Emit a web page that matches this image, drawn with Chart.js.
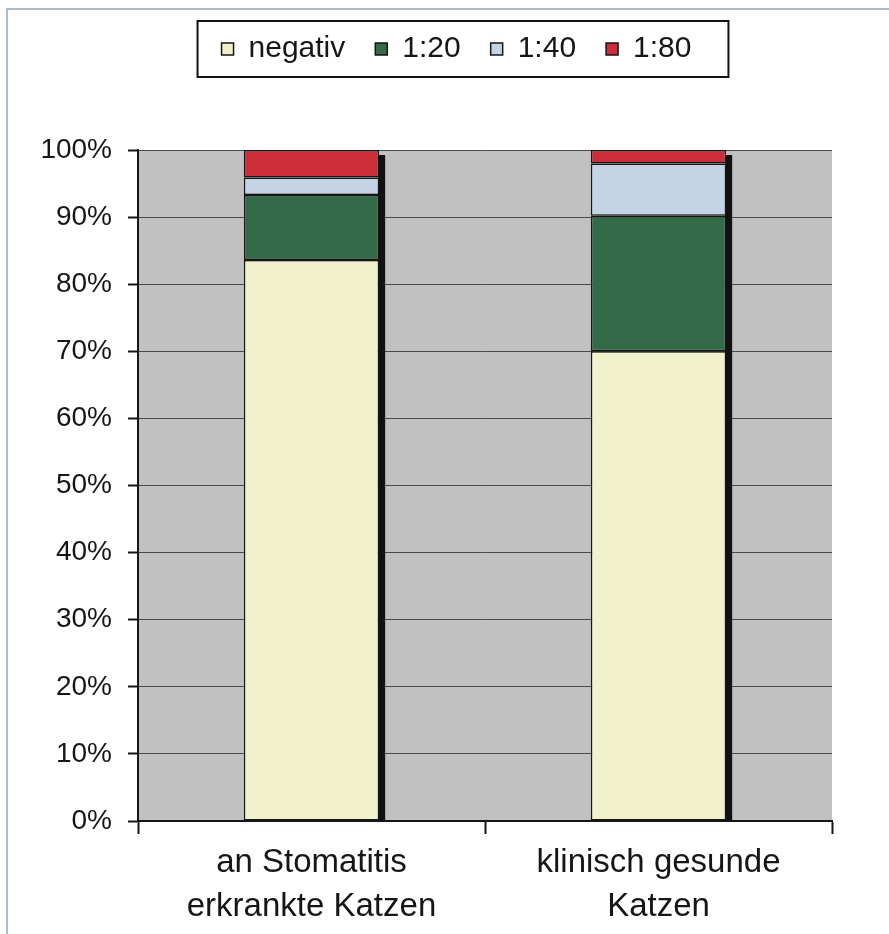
<!DOCTYPE html>
<html><head><meta charset="utf-8">
<script src="https://cdn.jsdelivr.net/npm/chart.js@4/dist/chart.umd.min.js"></script>
<style>
html,body{margin:0;padding:0;background:#fff;}
#wrap{position:relative;width:889px;height:934px;overflow:hidden;}
#frame{position:absolute;left:6px;top:8px;width:900px;height:950px;border-top:2px solid #a9bdcc;border-left:2px solid #a9bdcc;}
canvas{position:absolute;left:0;top:0;}
</style></head><body>
<div id="wrap"><div id="frame"></div><canvas id="c" width="889" height="934"></canvas></div>
<script>
// ---- data ----
const categories = [['an Stomatitis', 'erkrankte Katzen'], ['klinisch gesunde', 'Katzen']];
const seriesNames = ['negativ', '1:20', '1:40', '1:80'];
const negativ = [83.6, 70.0];
const titer20 = [9.7, 20.2];
const titer40 = [2.6, 7.8];
const titer80 = [4.1, 2.0];
const yMin = 0, yMax = 100, yStep = 10;

// ---- styles ----
const colors = ['#f1f2cc', '#336a48', '#c5d4e4', '#cb2e39'];
const FONT = "'Liberation Sans', Arial, sans-serif";
const DARK = '#161616';

const plotBg = {
  id: 'plotBg',
  beforeDraw(chart) {
    const {ctx, chartArea: a} = chart;
    ctx.save();
    ctx.fillStyle = '#c1c1c2';
    ctx.fillRect(a.left, a.top, a.right - a.left, a.bottom - a.top);
    ctx.restore();
  }
};
const barShadow = {
  id: 'barShadow',
  beforeDatasetsDraw(chart) {
    const ctx = chart.ctx;
    const n = chart.data.datasets.length;
    const topMeta = chart.getDatasetMeta(n - 1);
    const baseMeta = chart.getDatasetMeta(0);
    ctx.save();
    ctx.fillStyle = '#111';
    topMeta.data.forEach((bar, i) => {
      const p = bar.getProps(['x', 'y', 'width'], true);
      const base = baseMeta.data[i].getProps(['base'], true).base;
      const right = p.x + p.width / 2;
      ctx.fillRect(right - 1, p.y + 5, 7, base - p.y - 5);
    });
    ctx.restore();
  }
};
const legendGap = {
  id: 'legendGap',
  beforeLayout(chart) {
    const lg = chart.legend;
    if (lg && !lg._gapWrapped) {
      const fit = lg.fit.bind(lg);
      lg.fit = function () { fit(); this.height += 76; };
      lg._gapWrapped = true;
    }
  }
};
const legendBorder = {
  id: 'legendBorder',
  afterDraw(chart) {
    const hb = chart.legend && chart.legend.legendHitBoxes;
    if (!hb || !hb.length) return;
    const ctx = chart.ctx;
    const first = hb[0], last = hb[hb.length - 1];
    const cy = first.top + first.height / 2;
    ctx.save();
    ctx.strokeStyle = '#111';
    ctx.lineWidth = 2;
    ctx.strokeRect(first.left - 24, cy - 28, (last.left + last.width) - first.left + 24 + 37, 56);
    ctx.restore();
  }
};

const seriesData = [negativ, titer20, titer40, titer80];
const datasets = seriesNames.map((name, i) => ({
  label: name,
  data: seriesData[i],
  backgroundColor: colors[i],
  borderColor: DARK,
  borderWidth: 1.5,
  borderSkipped: false,
  categoryPercentage: 1.0,
  barPercentage: 0.39
}));

new Chart(document.getElementById('c'), {
  type: 'bar',
  data: { labels: categories, datasets },
  plugins: [plotBg, barShadow, legendGap, legendBorder],
  options: {
    responsive: false,
    devicePixelRatio: 1,
    animation: false,
    layout: { padding: { top: 4, left: 24, right: 0, bottom: 0 } },
    plugins: {
      tooltip: { enabled: false },
      legend: {
        display: true,
        position: 'top',
        labels: {
          boxWidth: 12, boxHeight: 12, padding: 30,
          color: DARK,
          font: { family: FONT, size: 30 }
        }
      }
    },
    scales: {
      x: {
        stacked: true,
        offset: true,
        grid: { display: true, offset: true, drawOnChartArea: false, drawTicks: true, tickLength: 13, tickColor: DARK, tickWidth: 2 },
        border: { display: true, color: DARK, width: 2 },
        ticks: { color: DARK, padding: 7, font: { family: FONT, size: 33, lineHeight: 1.33 }, maxRotation: 0 },
        afterFit(s) { s.height = 113; }
      },
      y: {
        stacked: true,
        min: yMin, max: yMax,
        grid: { color: '#4a4a4a', lineWidth: 1, drawTicks: true, tickLength: 10, tickColor: DARK, tickWidth: 2 },
        border: { display: true, color: DARK, width: 2 },
        ticks: { stepSize: yStep, padding: 16, color: DARK, font: { family: FONT, size: 28 }, callback: v => v + '%' },
        afterFit(s) { s.width = 114; }
      },
      yR: {
        type: 'linear', position: 'right', display: true,
        grid: { display: false }, border: { display: false }, ticks: { display: false },
        afterFit(s) { s.width = 57; }
      }
    }
  }
});
</script>
</body></html>
